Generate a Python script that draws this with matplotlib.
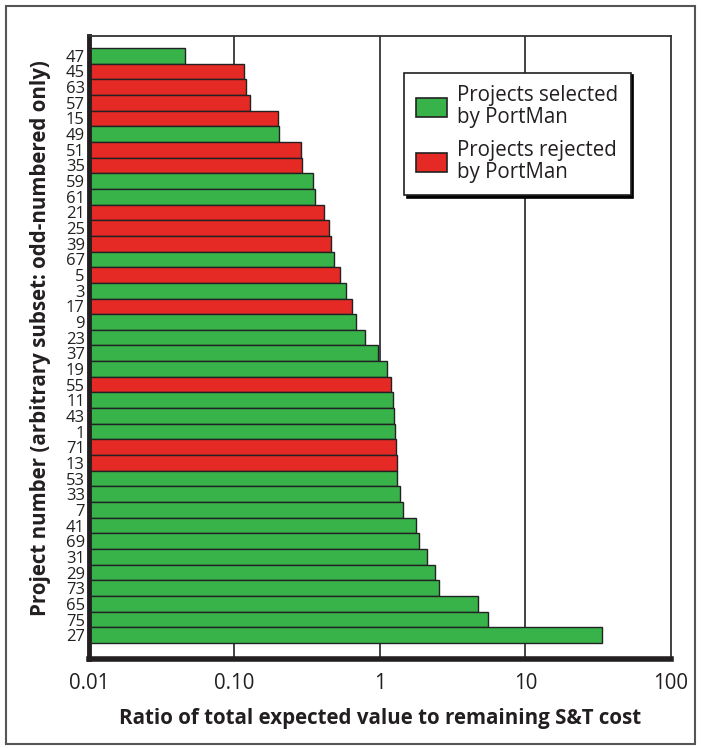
import matplotlib
matplotlib.use("Agg")
import matplotlib.pyplot as plt
from matplotlib.patches import Patch, Rectangle

plt.rcParams['font.family'] = ['Open Sans', 'DejaVu Sans']

# project numbers, top to bottom
projects = ['47', '45', '63', '57', '15', '49', '51', '35', '59', '61',
            '21', '25', '39', '67', '5', '3', '17', '9', '23', '37',
            '19', '55', '11', '43', '1', '71', '13', '53', '33', '7',
            '41', '69', '31', '29', '73', '65', '75', '27']
ratios = [0.046, 0.116, 0.120, 0.128, 0.200, 0.203, 0.285, 0.293, 0.345, 0.356,
          0.414, 0.446, 0.463, 0.483, 0.531, 0.581, 0.642, 0.681, 0.785, 0.969,
          1.11, 1.19, 1.23, 1.24, 1.27, 1.28, 1.31, 1.31, 1.37, 1.45,
          1.77, 1.86, 2.09, 2.39, 2.54, 4.69, 5.50, 33.7]
selected = [1, 0, 0, 0, 0, 1, 0, 0, 1, 1,
            0, 0, 0, 1, 0, 1, 0, 1, 1, 1,
            1, 0, 1, 1, 1, 0, 0, 1, 1, 1,
            1, 1, 1, 1, 1, 1, 1, 1]
xticks = [0.01, 0.1, 1, 10, 100]
xticklabels = ['0.01', '0.10', '1', '10', '100']

green = '#37b34a'
red = '#e52a25'

fig = plt.figure(figsize=(7.01, 7.48), dpi=100)
ax = fig.add_axes([0.127, 0.119, 0.830, 0.833])

n = len(projects)
ypos = [n - 1 - i for i in range(n)]
colors = [green if s else red for s in selected]

# vertical grid lines behind the bars
for g in [0.1, 1, 10]:
    ax.axvline(g, color='#222222', lw=1.2, zorder=0)

ax.barh(ypos, [r - 0.01 for r in ratios], left=0.01, height=1.0,
        color=colors, edgecolor='#222222', linewidth=1.0, zorder=2)

ax.set_xscale('log')
ax.set_xlim(0.01, 100)
ax.set_ylim(-1.52, n + 0.27)
ax.set_xticks(xticks)
ax.set_xticklabels(xticklabels, fontsize=14.8, color='#231f20')
ax.minorticks_off()
ax.set_yticks(ypos)
ax.set_yticklabels(projects, fontsize=12, color='#231f20')
ax.tick_params(axis='both', length=0)
ax.tick_params(axis='x', pad=10)
ax.tick_params(axis='y', pad=3)

for side in ['top', 'right']:
    ax.spines[side].set_linewidth(1.3)
    ax.spines[side].set_color('#333333')
ax.spines['left'].set_linewidth(3.5)
ax.spines['bottom'].set_linewidth(4)
ax.spines['left'].set_color('#231f20')
ax.spines['bottom'].set_color('#231f20')

ax.set_xlabel('Ratio of total expected value to remaining S&T cost',
              fontsize=14.8, fontweight='bold', color='#231f20', labelpad=10)
ax.set_ylabel('Project number (arbitrary subset: odd-numbered only)',
              fontsize=14.8, fontweight='bold', color='#231f20', labelpad=8)
ax.yaxis.set_label_coords(-0.066, 0.515)

handles = [Patch(facecolor=green, edgecolor='#222222', lw=1.2),
           Patch(facecolor=red, edgecolor='#222222', lw=1.2)]
leg = ax.legend(handles, ['Projects selected\nby PortMan', 'Projects rejected\nby PortMan'],
                loc='upper right', bbox_to_anchor=(0.931, 0.941), borderaxespad=0,
                fontsize=14.8, fancybox=False, framealpha=1,
                edgecolor='#231f20', handlelength=1.5, handleheight=1.0,
                handletextpad=0.5, labelspacing=0.6, borderpad=0.6,
                shadow={'color': 'black', 'alpha': 1})
leg.get_frame().set_linewidth(1.2)
for t in leg.get_texts():
    t.set_color('#231f20')
    t.set_linespacing(1.05)

# outer frame
fig.patches.append(Rectangle((0.008, 0.006), 0.984, 0.986, transform=fig.transFigure,
                             fill=False, edgecolor='#555555', lw=1.5))

fig.savefig('out.png', dpi=100)
